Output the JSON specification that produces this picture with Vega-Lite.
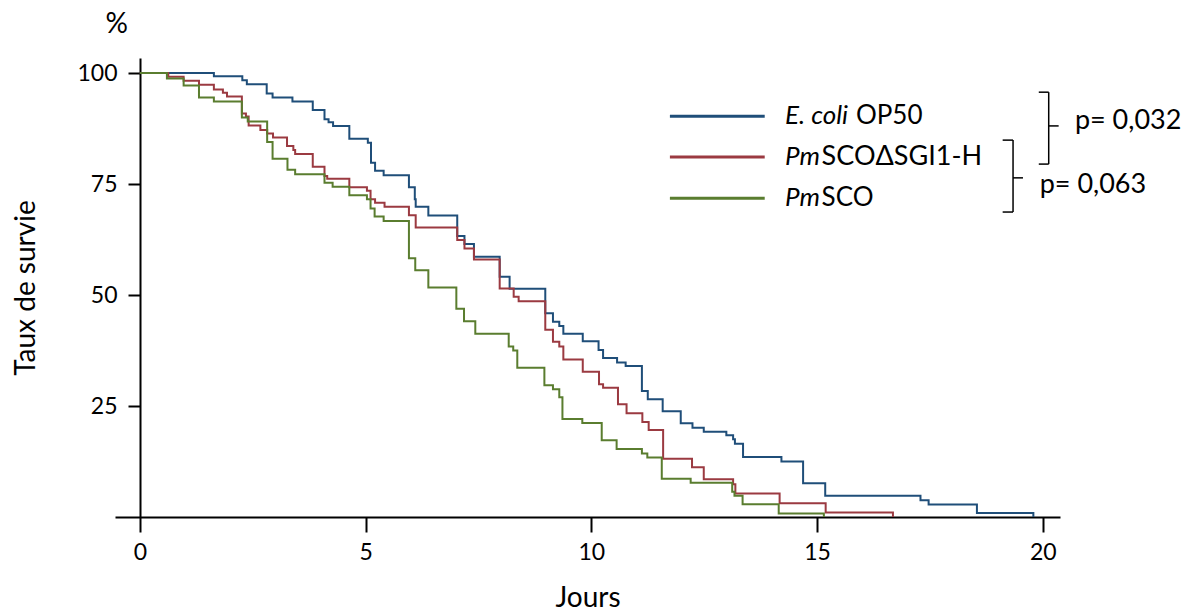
{
  "$schema": "https://vega.github.io/schema/vega-lite/v6.json",
  "width": 945,
  "height": 459,
  "autosize": {"type": "none"},
  "padding": {"left": 115, "top": 58, "right": 139, "bottom": 95},
  "background": "white",
  "config": {
    "view": {"stroke": null},
    "font": "Lato"
  },
  "datasets": {
    "one": [{}],
    "surv": [
      {"serie": "E. coli OP50", "day": 0, "pct": 100},
      {"serie": "E. coli OP50", "day": 1.64, "pct": 99.3},
      {"serie": "E. coli OP50", "day": 2.27, "pct": 98.4},
      {"serie": "E. coli OP50", "day": 2.37, "pct": 97.5},
      {"serie": "E. coli OP50", "day": 2.81, "pct": 95.4},
      {"serie": "E. coli OP50", "day": 2.94, "pct": 94.5},
      {"serie": "E. coli OP50", "day": 3.38, "pct": 93.6},
      {"serie": "E. coli OP50", "day": 3.83, "pct": 91.7},
      {"serie": "E. coli OP50", "day": 4.09, "pct": 89.6},
      {"serie": "E. coli OP50", "day": 4.18, "pct": 88.9},
      {"serie": "E. coli OP50", "day": 4.28, "pct": 88.1},
      {"serie": "E. coli OP50", "day": 4.64, "pct": 85.2},
      {"serie": "E. coli OP50", "day": 5.05, "pct": 84.3},
      {"serie": "E. coli OP50", "day": 5.12, "pct": 79.8},
      {"serie": "E. coli OP50", "day": 5.21, "pct": 78.0},
      {"serie": "E. coli OP50", "day": 5.40, "pct": 77.0},
      {"serie": "E. coli OP50", "day": 5.96, "pct": 74.3},
      {"serie": "E. coli OP50", "day": 6.09, "pct": 71.6},
      {"serie": "E. coli OP50", "day": 6.11, "pct": 69.9},
      {"serie": "E. coli OP50", "day": 6.39, "pct": 67.9},
      {"serie": "E. coli OP50", "day": 7.03, "pct": 63.3},
      {"serie": "E. coli OP50", "day": 7.19, "pct": 61.5},
      {"serie": "E. coli OP50", "day": 7.40, "pct": 58.6},
      {"serie": "E. coli OP50", "day": 7.97, "pct": 54.1},
      {"serie": "E. coli OP50", "day": 8.19, "pct": 51.4},
      {"serie": "E. coli OP50", "day": 8.98, "pct": 45.9},
      {"serie": "E. coli OP50", "day": 9.15, "pct": 44.0},
      {"serie": "E. coli OP50", "day": 9.29, "pct": 43.0},
      {"serie": "E. coli OP50", "day": 9.38, "pct": 41.3},
      {"serie": "E. coli OP50", "day": 9.81, "pct": 39.6},
      {"serie": "E. coli OP50", "day": 10.16, "pct": 37.6},
      {"serie": "E. coli OP50", "day": 10.26, "pct": 35.8},
      {"serie": "E. coli OP50", "day": 10.57, "pct": 34.8},
      {"serie": "E. coli OP50", "day": 10.76, "pct": 34.0},
      {"serie": "E. coli OP50", "day": 11.12, "pct": 28.4},
      {"serie": "E. coli OP50", "day": 11.25, "pct": 26.5},
      {"serie": "E. coli OP50", "day": 11.58, "pct": 23.8},
      {"serie": "E. coli OP50", "day": 11.98, "pct": 21.1},
      {"serie": "E. coli OP50", "day": 12.24, "pct": 20.1},
      {"serie": "E. coli OP50", "day": 12.49, "pct": 19.2},
      {"serie": "E. coli OP50", "day": 12.99, "pct": 18.4},
      {"serie": "E. coli OP50", "day": 13.14, "pct": 17.5},
      {"serie": "E. coli OP50", "day": 13.18, "pct": 16.5},
      {"serie": "E. coli OP50", "day": 13.36, "pct": 13.5},
      {"serie": "E. coli OP50", "day": 14.21, "pct": 12.5},
      {"serie": "E. coli OP50", "day": 14.69, "pct": 7.6},
      {"serie": "E. coli OP50", "day": 15.18, "pct": 4.8},
      {"serie": "E. coli OP50", "day": 17.29, "pct": 3.8},
      {"serie": "E. coli OP50", "day": 17.47, "pct": 2.8},
      {"serie": "E. coli OP50", "day": 18.54, "pct": 0.9},
      {"serie": "E. coli OP50", "day": 19.79, "pct": 0},
      {"serie": "PmSCOΔSGI1-H", "day": 0, "pct": 100},
      {"serie": "PmSCOΔSGI1-H", "day": 0.63, "pct": 99.2},
      {"serie": "PmSCOΔSGI1-H", "day": 0.97, "pct": 98.3},
      {"serie": "PmSCOΔSGI1-H", "day": 1.31, "pct": 97.4},
      {"serie": "PmSCOΔSGI1-H", "day": 1.64, "pct": 96.3},
      {"serie": "PmSCOΔSGI1-H", "day": 1.84, "pct": 95.6},
      {"serie": "PmSCOΔSGI1-H", "day": 1.93, "pct": 94.7},
      {"serie": "PmSCOΔSGI1-H", "day": 2.26, "pct": 90.9},
      {"serie": "PmSCOΔSGI1-H", "day": 2.35, "pct": 90.2},
      {"serie": "PmSCOΔSGI1-H", "day": 2.41, "pct": 88.2},
      {"serie": "PmSCOΔSGI1-H", "day": 2.67, "pct": 87.2},
      {"serie": "PmSCOΔSGI1-H", "day": 2.82, "pct": 86.4},
      {"serie": "PmSCOΔSGI1-H", "day": 2.95, "pct": 85.5},
      {"serie": "PmSCOΔSGI1-H", "day": 3.26, "pct": 83.6},
      {"serie": "PmSCOΔSGI1-H", "day": 3.40, "pct": 82.7},
      {"serie": "PmSCOΔSGI1-H", "day": 3.44, "pct": 81.8},
      {"serie": "PmSCOΔSGI1-H", "day": 3.83, "pct": 78.9},
      {"serie": "PmSCOΔSGI1-H", "day": 4.09, "pct": 76.8},
      {"serie": "PmSCOΔSGI1-H", "day": 4.15, "pct": 76.2},
      {"serie": "PmSCOΔSGI1-H", "day": 4.64, "pct": 74.3},
      {"serie": "PmSCOΔSGI1-H", "day": 5.03, "pct": 73.5},
      {"serie": "PmSCOΔSGI1-H", "day": 5.11, "pct": 71.6},
      {"serie": "PmSCOΔSGI1-H", "day": 5.21, "pct": 70.8},
      {"serie": "PmSCOΔSGI1-H", "day": 5.42, "pct": 69.9},
      {"serie": "PmSCOΔSGI1-H", "day": 5.96, "pct": 68.0},
      {"serie": "PmSCOΔSGI1-H", "day": 6.11, "pct": 65.2},
      {"serie": "PmSCOΔSGI1-H", "day": 7.03, "pct": 62.4},
      {"serie": "PmSCOΔSGI1-H", "day": 7.19, "pct": 60.5},
      {"serie": "PmSCOΔSGI1-H", "day": 7.40, "pct": 58.0},
      {"serie": "PmSCOΔSGI1-H", "day": 7.97, "pct": 51.5},
      {"serie": "PmSCOΔSGI1-H", "day": 8.28, "pct": 49.6},
      {"serie": "PmSCOΔSGI1-H", "day": 8.39, "pct": 48.6},
      {"serie": "PmSCOΔSGI1-H", "day": 8.98, "pct": 42.2},
      {"serie": "PmSCOΔSGI1-H", "day": 9.15, "pct": 39.5},
      {"serie": "PmSCOΔSGI1-H", "day": 9.29, "pct": 38.4},
      {"serie": "PmSCOΔSGI1-H", "day": 9.38, "pct": 35.5},
      {"serie": "PmSCOΔSGI1-H", "day": 9.81, "pct": 32.7},
      {"serie": "PmSCOΔSGI1-H", "day": 10.17, "pct": 29.9},
      {"serie": "PmSCOΔSGI1-H", "day": 10.26, "pct": 29.1},
      {"serie": "PmSCOΔSGI1-H", "day": 10.59, "pct": 25.4},
      {"serie": "PmSCOΔSGI1-H", "day": 10.78, "pct": 23.4},
      {"serie": "PmSCOΔSGI1-H", "day": 11.13, "pct": 21.4},
      {"serie": "PmSCOΔSGI1-H", "day": 11.27, "pct": 19.6},
      {"serie": "PmSCOΔSGI1-H", "day": 11.59, "pct": 13.1},
      {"serie": "PmSCOΔSGI1-H", "day": 12.23, "pct": 11.2},
      {"serie": "PmSCOΔSGI1-H", "day": 12.49, "pct": 8.5},
      {"serie": "PmSCOΔSGI1-H", "day": 13.14, "pct": 7.4},
      {"serie": "PmSCOΔSGI1-H", "day": 13.19, "pct": 5.3},
      {"serie": "PmSCOΔSGI1-H", "day": 14.17, "pct": 3.1},
      {"serie": "PmSCOΔSGI1-H", "day": 15.19, "pct": 1.0},
      {"serie": "PmSCOΔSGI1-H", "day": 16.68, "pct": 0},
      {"serie": "PmSCO", "day": 0, "pct": 100},
      {"serie": "PmSCO", "day": 0.60, "pct": 98.8},
      {"serie": "PmSCO", "day": 0.97, "pct": 97.2},
      {"serie": "PmSCO", "day": 1.31, "pct": 94.5},
      {"serie": "PmSCO", "day": 1.64, "pct": 93.6},
      {"serie": "PmSCO", "day": 2.26, "pct": 90.0},
      {"serie": "PmSCO", "day": 2.39, "pct": 89.1},
      {"serie": "PmSCO", "day": 2.82, "pct": 84.5},
      {"serie": "PmSCO", "day": 2.94, "pct": 80.7},
      {"serie": "PmSCO", "day": 3.27, "pct": 78.2},
      {"serie": "PmSCO", "day": 3.44, "pct": 77.2},
      {"serie": "PmSCO", "day": 4.09, "pct": 75.3},
      {"serie": "PmSCO", "day": 4.27, "pct": 74.4},
      {"serie": "PmSCO", "day": 4.64, "pct": 72.5},
      {"serie": "PmSCO", "day": 5.03, "pct": 71.6},
      {"serie": "PmSCO", "day": 5.11, "pct": 69.5},
      {"serie": "PmSCO", "day": 5.20, "pct": 67.7},
      {"serie": "PmSCO", "day": 5.40, "pct": 66.7},
      {"serie": "PmSCO", "day": 5.96, "pct": 58.3},
      {"serie": "PmSCO", "day": 6.10, "pct": 55.6},
      {"serie": "PmSCO", "day": 6.39, "pct": 51.7},
      {"serie": "PmSCO", "day": 7.01, "pct": 46.9},
      {"serie": "PmSCO", "day": 7.18, "pct": 44.1},
      {"serie": "PmSCO", "day": 7.43, "pct": 41.3},
      {"serie": "PmSCO", "day": 8.17, "pct": 38.4},
      {"serie": "PmSCO", "day": 8.27, "pct": 37.5},
      {"serie": "PmSCO", "day": 8.36, "pct": 33.6},
      {"serie": "PmSCO", "day": 8.96, "pct": 29.7},
      {"serie": "PmSCO", "day": 9.15, "pct": 28.8},
      {"serie": "PmSCO", "day": 9.29, "pct": 27.0},
      {"serie": "PmSCO", "day": 9.36, "pct": 22.1},
      {"serie": "PmSCO", "day": 9.80, "pct": 21.2},
      {"serie": "PmSCO", "day": 10.23, "pct": 17.3},
      {"serie": "PmSCO", "day": 10.56, "pct": 15.3},
      {"serie": "PmSCO", "day": 11.12, "pct": 14.3},
      {"serie": "PmSCO", "day": 11.24, "pct": 13.4},
      {"serie": "PmSCO", "day": 11.56, "pct": 8.6},
      {"serie": "PmSCO", "day": 12.20, "pct": 7.7},
      {"serie": "PmSCO", "day": 13.12, "pct": 5.7},
      {"serie": "PmSCO", "day": 13.17, "pct": 4.8},
      {"serie": "PmSCO", "day": 13.35, "pct": 2.9},
      {"serie": "PmSCO", "day": 14.15, "pct": 0.8},
      {"serie": "PmSCO", "day": 15.15, "pct": 0}
    ]
  },
  "layer": [
    {
      "data": {"name": "surv"},
      "mark": {"type": "line", "interpolate": "step-after", "strokeWidth": 2},
      "encoding": {
        "x": {
          "field": "day", "type": "quantitative",
          "scale": {"domain": [-0.55, 20.38], "nice": false, "zero": false},
          "axis": {
            "title": "Jours", "values": [0, 5, 10, 15, 20], "grid": false,
            "domainColor": "black", "domainWidth": 2, "tickColor": "black", "tickWidth": 2, "tickSize": 15,
            "labelFont": "Lato", "labelFontSize": 23, "labelColor": "black", "labelPadding": 9,
            "titleFont": "Lato", "titleFontSize": 28, "titleFontWeight": "normal", "titleColor": "black", "titlePadding": 20
          }
        },
        "y": {
          "field": "pct", "type": "quantitative",
          "scale": {"domain": [0, 103.4], "nice": false, "zero": true},
          "axis": {
            "title": "Taux de survie", "values": [25, 50, 75, 100], "grid": false, "offset": -25,
            "domainColor": "black", "domainWidth": 2, "tickColor": "black", "tickWidth": 2, "tickSize": 12,
            "labelFont": "Lato", "labelFontSize": 23, "labelColor": "black", "labelPadding": 11,
            "titleFont": "Lato", "titleFontSize": 28, "titleFontWeight": "normal", "titleColor": "black", "titlePadding": 36
          }
        },
        "color": {
          "field": "serie", "type": "nominal", "legend": null,
          "scale": {"domain": ["E. coli OP50", "PmSCOΔSGI1-H", "PmSCO"], "range": ["#1F4E79", "#9B3A41", "#5A7D2F"]}
        }
      }
    },
    {"data": {"name": "one"}, "mark": {"type": "text", "text": "%", "align": "center", "baseline": "middle", "fontSize": 28, "font": "Lato", "color": "black"},
     "encoding": {"x": {"datum": -0.51}, "y": {"datum": 110.8}}},
    {"data": {"name": "one"}, "mark": {"type": "rule", "strokeWidth": 3, "color": "#1F4E79"},
     "encoding": {"x": {"datum": 11.74}, "x2": {"datum": 13.84}, "y": {"datum": 90.3}}},
    {"data": {"name": "one"}, "mark": {"type": "rule", "strokeWidth": 3, "color": "#9B3A41"},
     "encoding": {"x": {"datum": 11.74}, "x2": {"datum": 13.84}, "y": {"datum": 81.1}}},
    {"data": {"name": "one"}, "mark": {"type": "rule", "strokeWidth": 3, "color": "#5A7D2F"},
     "encoding": {"x": {"datum": 11.74}, "x2": {"datum": 13.84}, "y": {"datum": 71.8}}},
    {"data": {"name": "one"}, "mark": {"type": "text", "text": "E. coli", "fontStyle": "italic", "align": "left", "baseline": "middle", "fontSize": 26, "font": "Lato", "color": "black"},
     "encoding": {"x": {"datum": 14.29}, "y": {"datum": 90.3}}},
    {"data": {"name": "one"}, "mark": {"type": "text", "text": "OP50", "align": "left", "baseline": "middle", "fontSize": 26, "font": "Lato", "color": "black"},
     "encoding": {"x": {"datum": 15.86}, "y": {"datum": 90.3}}},
    {"data": {"name": "one"}, "mark": {"type": "text", "text": "Pm", "fontStyle": "italic", "align": "left", "baseline": "middle", "fontSize": 26, "font": "Lato", "color": "black"},
     "encoding": {"x": {"datum": 14.29}, "y": {"datum": 81.1}}},
    {"data": {"name": "one"}, "mark": {"type": "text", "text": "SCOΔSGI1-H", "align": "left", "baseline": "middle", "fontSize": 27, "font": "Lato", "color": "black"},
     "encoding": {"x": {"datum": 15.1}, "y": {"datum": 81.1}}},
    {"data": {"name": "one"}, "mark": {"type": "text", "text": "Pm", "fontStyle": "italic", "align": "left", "baseline": "middle", "fontSize": 26, "font": "Lato", "color": "black"},
     "encoding": {"x": {"datum": 14.29}, "y": {"datum": 71.8}}},
    {"data": {"name": "one"}, "mark": {"type": "text", "text": "SCO", "align": "left", "baseline": "middle", "fontSize": 26, "font": "Lato", "color": "black"},
     "encoding": {"x": {"datum": 15.1}, "y": {"datum": 71.8}}},
    {"data": {"name": "one"}, "mark": {"type": "rule", "strokeWidth": 1.5, "color": "black"},
     "encoding": {"x": {"datum": 19.91}, "x2": {"datum": 20.13}, "y": {"datum": 95.7}}},
    {"data": {"name": "one"}, "mark": {"type": "rule", "strokeWidth": 1.5, "color": "black"},
     "encoding": {"x": {"datum": 19.91}, "x2": {"datum": 20.13}, "y": {"datum": 79.5}}},
    {"data": {"name": "one"}, "mark": {"type": "rule", "strokeWidth": 1.5, "color": "black"},
     "encoding": {"x": {"datum": 20.13}, "y": {"datum": 95.7}, "y2": {"datum": 79.5}}},
    {"data": {"name": "one"}, "mark": {"type": "rule", "strokeWidth": 1.5, "color": "black"},
     "encoding": {"x": {"datum": 20.13}, "x2": {"datum": 20.35}, "y": {"datum": 88.1}}},
    {"data": {"name": "one"}, "mark": {"type": "rule", "strokeWidth": 1.5, "color": "black"},
     "encoding": {"x": {"datum": 19.11}, "x2": {"datum": 19.34}, "y": {"datum": 84.9}}},
    {"data": {"name": "one"}, "mark": {"type": "rule", "strokeWidth": 1.5, "color": "black"},
     "encoding": {"x": {"datum": 19.11}, "x2": {"datum": 19.34}, "y": {"datum": 68.7}}},
    {"data": {"name": "one"}, "mark": {"type": "rule", "strokeWidth": 1.5, "color": "black"},
     "encoding": {"x": {"datum": 19.34}, "y": {"datum": 84.9}, "y2": {"datum": 68.7}}},
    {"data": {"name": "one"}, "mark": {"type": "rule", "strokeWidth": 1.5, "color": "black"},
     "encoding": {"x": {"datum": 19.34}, "x2": {"datum": 19.56}, "y": {"datum": 76.4}}},
    {"data": {"name": "one"}, "mark": {"type": "text", "text": "p= 0,032", "align": "left", "baseline": "middle", "fontSize": 27, "font": "Lato", "color": "black"},
     "encoding": {"x": {"datum": 20.71}, "y": {"datum": 89.2}}},
    {"data": {"name": "one"}, "mark": {"type": "text", "text": "p= 0,063", "align": "left", "baseline": "middle", "fontSize": 27, "font": "Lato", "color": "black"},
     "encoding": {"x": {"datum": 19.93}, "y": {"datum": 74.8}}}
  ]
}
